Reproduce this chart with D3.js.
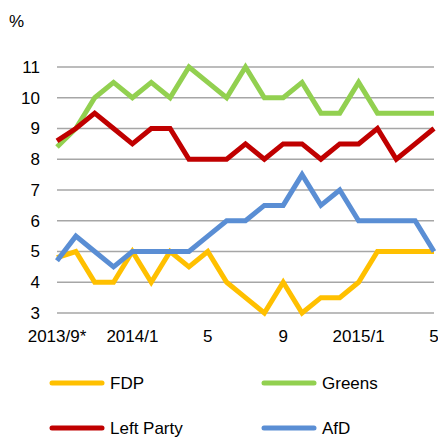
<!DOCTYPE html>
<html>
<head>
<meta charset="utf-8">
<script src="https://cdn.jsdelivr.net/npm/d3@7"></script>
<style>
  body { margin: 0; background: #fff; }
  text { font-family: "Liberation Sans", Arial, sans-serif; fill: #000; }
</style>
</head>
<body>
<svg id="chart" width="438" height="439"></svg>
<script>
// months from 2013/9 to 2015/5
var months = ["2013/9*","2013/10","2013/11","2013/12","2014/1","2014/2","2014/3","2014/4","2014/5","2014/6","2014/7",
              "2014/8","2014/9","2014/10","2014/11","2014/12","2015/1","2015/2","2015/3","2015/4","2015/5"];
var tickLabels = {"2013/9*":"2013/9*","2014/1":"2014/1","2014/5":"5","2014/9":"9","2015/1":"2015/1","2015/5":"5"};
var yTicks = [3,4,5,6,7,8,9,10,11];

var fdp    = [4.8,5,4,4,5,4,5,4.5,5,4,3.5,3,4,3,3.5,3.5,4,5,5,5,5];
var greens = [8.4,9,10,10.5,10,10.5,10,11,10.5,10,11,10,10,10.5,9.5,9.5,10.5,9.5,9.5,9.5,9.5];
var left   = [8.6,9,9.5,9,8.5,9,9,8,8,8,8.5,8,8.5,8.5,8,8.5,8.5,9,8,8.5,9];
var afd    = [4.7,5.5,5,4.5,5,5,5,5,5.5,6,6,6.5,6.5,7.5,6.5,7,6,6,6,6,5];

var series = [
  {name:"FDP", values:fdp, color:"#FFC000"},
  {name:"Greens", values:greens, color:"#92D050"},
  {name:"Left Party", values:left, color:"#C00000"},
  {name:"AfD", values:afd, color:"#5A8ED4"}
];

var svg = d3.select("#chart");

var x = d3.scalePoint().domain(months).range([57, 434]);
var y = d3.scaleLinear().domain([3, 11]).range([313, 67]);

// gridlines
svg.append("g").selectAll("line")
  .data(yTicks)
  .enter().append("line")
    .attr("x1", 57).attr("x2", 434)
    .attr("y1", function(d){ return y(d); })
    .attr("y2", function(d){ return y(d); })
    .attr("stroke", "#a6a6a6")
    .attr("stroke-width", 1.5);

// y axis labels
svg.append("g").selectAll("text")
  .data(yTicks)
  .enter().append("text")
    .attr("x", 40)
    .attr("y", function(d){ return y(d); })
    .attr("dy", "0.35em")
    .attr("text-anchor", "end")
    .style("font-size", "17px")
    .text(function(d){ return d; });

svg.append("text")
  .attr("x", 9).attr("y", 27)
  .style("font-size", "17px")
  .text("%");

// x axis labels
svg.append("g").selectAll("text")
  .data(months.filter(function(m){ return tickLabels[m] || m == "2014/1"; }))
  .enter().append("text")
    .attr("x", function(d){ return x(d); })
    .attr("y", 342)
    .attr("text-anchor", "middle")
    .style("font-size", "17px")
    .text(function(d){ return tickLabels[d]; });

var line = d3.line()
  .x(function(d, i){ return x(months[i]); })
  .y(function(d){ return y(d); });

// draw order: afd, fdp, left, greens? keep Excel order
svg.append("g").selectAll("path")
  .data(series)
  .enter().append("path")
    .attr("d", function(s){ return line(s.values); })
    .attr("fill", "none")
    .attr("stroke", function(s){ return s.color; })
    .attr("stroke-width", 5)
    .attr("stroke-linejoin", "miter")
    .attr("stroke-linecap", "butt");

// legend
var leg = svg.append("g").selectAll("g")
  .data(series)
  .enter().append("g")
    .attr("transform", function(d, i){
      return "translate(" + (i % 2 == 0 ? 52 : 264) + "," + (i < 2 ? 383 : 428) + ")";
    });
leg.append("line")
  .attr("x1", 0).attr("x2", 50)
  .attr("stroke", function(d){ return d.color; })
  .attr("stroke-width", 5)
  .attr("stroke-linecap", "round");
leg.append("text")
  .attr("x", 58).attr("dy", "0.35em")
  .style("font-size", "17px")
  .text(function(d){ return d.name; });
</script>
</body>
</html>
